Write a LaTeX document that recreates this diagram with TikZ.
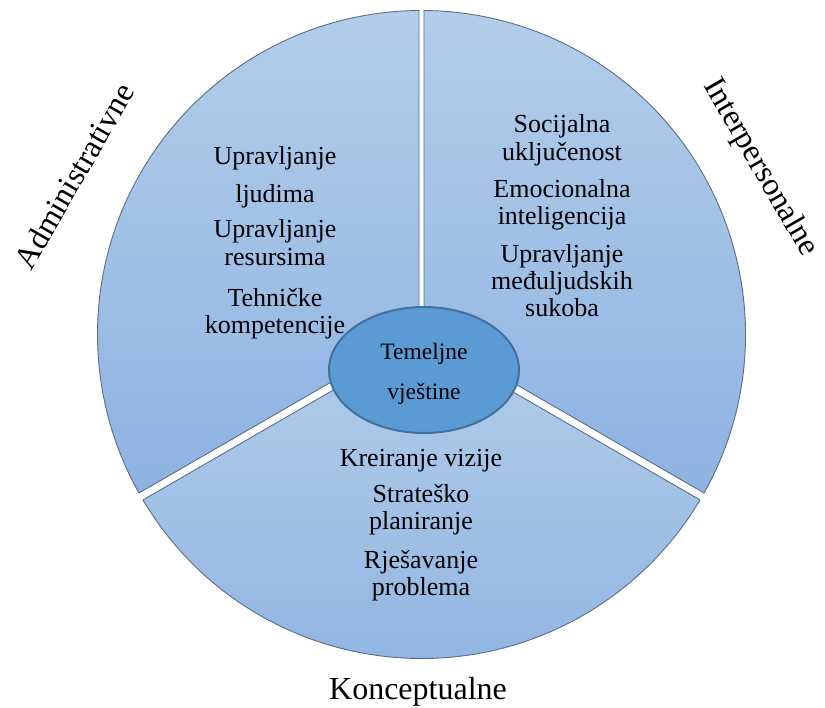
\documentclass[tikz,border=0pt]{standalone}
\usepackage{fontspec}
\setmainfont{Liberation Serif}
\usetikzlibrary{calc,shapes.geometric}
\definecolor{sectTop}{HTML}{B3CDEA}
\definecolor{sectBot}{HTML}{8DB3E2}
\definecolor{sectLine}{HTML}{5A6E87}
\definecolor{coreFill}{HTML}{5B9BD5}
\definecolor{coreLine}{HTML}{41719C}
\newcommand\drawsector[5]{% #1 a1, #2 a2, #3 g1, #4 g2, #5 name
  \coordinate (#5pa) at ($(O)+(#1+90:#3)$);
  \coordinate (#5qa) at ($(#5pa)+(#1:100)$);
  \coordinate (#5pb) at ($(O)+(#2-90:#4)$);
  \coordinate (#5qb) at ($(#5pb)+(#2:100)$);
  \coordinate (#5c) at (intersection of #5pa--#5qa and #5pb--#5qb);
  \pgfmathsetmacro\sa{#1+asin(#3/\R)}
  \pgfmathsetmacro\ea{#2-asin(#4/\R)}
  \path[sector] (#5c) -- ($(O)+(\sa:\R)$) arc[start angle=\sa, end angle=\ea, radius=\R] -- cycle;
}
\begin{document}
\begin{tikzpicture}[x=1pt,y=1pt,
  txt/.style={font=\fontsize{26}{27}\selectfont, anchor=base, inner sep=0pt},
  coretxt/.style={font=\fontsize{23.5}{25}\selectfont, anchor=base, inner sep=0pt},
  outer/.style={font=\fontsize{32}{34}\selectfont, inner sep=0pt},
  sector/.style={draw=sectLine, line width=0.9pt, top color=sectTop, bottom color=sectBot, line join=round}]
\useasboundingbox (0,0) rectangle (825,708);
\coordinate (O) at (421.5,373.5);
\def\R{324}
\drawsector{90}{210}{2.5}{4}{L}
\drawsector{-30}{90}{4}{2.5}{Rt}
\drawsector{210}{330}{4}{4}{B}

\node[ellipse, draw=coreLine, line width=2pt, fill=coreFill, minimum width=190pt, minimum height=126pt, inner sep=0pt] (core) at (424,338) {};
\node[coretxt] (c1) at (424,348) {Temeljne};
\node[coretxt] (c2) at (424,308) {vještine};

% left sector
\node[txt] (l1) at (275,543) {Upravljanje};
\node[txt] (l2) at (275,505) {ljudima};
\node[txt] (l3) at (275,470) {Upravljanje};
\node[txt] (l4) at (275,442) {resursima};
\node[txt] (l5) at (275,401) {Tehničke};
\node[txt] (l6) at (275,374) {kompetencije};

% right sector
\node[txt] (r1) at (562,575) {Socijalna};
\node[txt] (r2) at (562,547) {uključenost};
\node[txt] (r3) at (562,510) {Emocionalna};
\node[txt] (r4) at (562,483) {inteligencija};
\node[txt] (r5) at (562,445) {Upravljanje};
\node[txt] (r6) at (562,418) {međuljudskih};
\node[txt] (r7) at (562,391) {sukoba};

% bottom sector
\node[txt] (b1) at (421,241) {Kreiranje vizije};
\node[txt] (b2) at (421,205) {Strateško};
\node[txt] (b3) at (421,178) {planiranje};
\node[txt] (b4) at (421,139) {Rješavanje};
\node[txt] (b5) at (421,112) {problema};

% outer labels
\node[outer, anchor=base] (konc) at (418,8) {Konceptualne};
\node[outer, rotate=60] (adm) at (74,532) {Administrativne};
\node[outer, rotate=-60] (inter) at (760,540) {Interpersonalne};
\end{tikzpicture}
\end{document}
